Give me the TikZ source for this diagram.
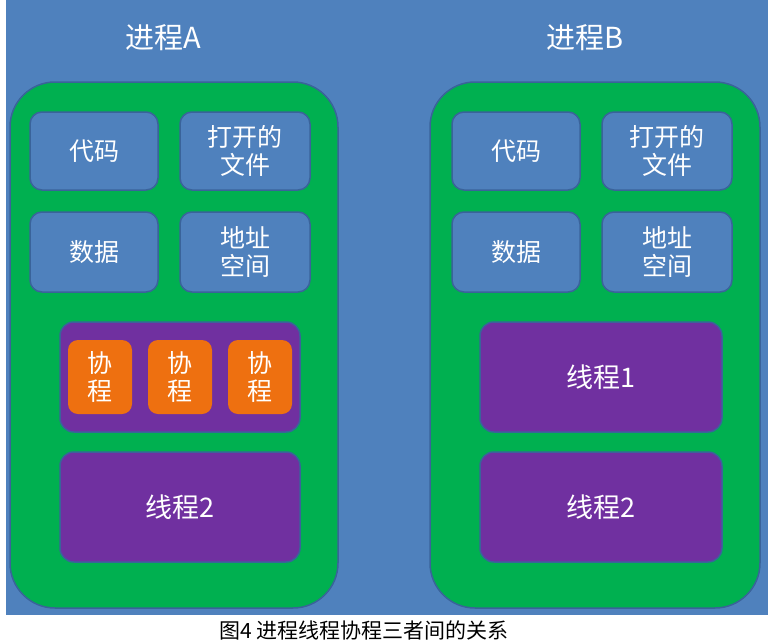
\documentclass[tikz,border=0pt]{standalone}
\usepackage{fontspec}
\setmainfont{Noto Sans CJK SC}
\begin{document}
\begin{tikzpicture}[x=1pt,y=-1pt]
\definecolor{bg}{HTML}{4F81BD}
\definecolor{grn}{HTML}{00B050}
\definecolor{pur}{HTML}{7030A0}
\definecolor{org}{HTML}{EE7010}
\definecolor{edge}{HTML}{3A639A}
\tikzset{
 proc/.style={draw=edge,line width=1.5pt,fill=grn,rounded corners=45pt},
 res/.style={draw=edge,line width=1.5pt,fill=bg,rounded corners=12pt},
 thr/.style={draw=edge,line width=1.5pt,fill=pur,rounded corners=14pt},
 co/.style={fill=org,rounded corners=10pt},
 lbl/.style={text=white,font=\fontsize{25}{28}\selectfont,align=center,inner sep=0pt},
 ttl/.style={text=white,font=\fontsize{29}{32}\selectfont}
}
\useasboundingbox (0,0) rectangle (774,643);
\fill[white] (0,0) rectangle (774,643);
\fill[bg] (6,0) rectangle (768,615);
\node[ttl] (ta) at (163,38) {进程A};
\node[ttl] (tb) at (585,38) {进程B};
\draw[proc] (10,82) rectangle (338,608);
\draw[proc] (430,82) rectangle (760,608);
\foreach \dx/\p in {0/a,422/b}{
 \draw[res] (30+\dx,112) rectangle (158+\dx,190);
 \node[lbl] (\p1) at (94+\dx,151) {代码};
 \draw[res] (180+\dx,112) rectangle (310+\dx,190);
 \node[lbl] (\p2) at (245+\dx,151) {打开的\\文件};
 \draw[res] (30+\dx,212) rectangle (158+\dx,292);
 \node[lbl] (\p3) at (94+\dx,252) {数据};
 \draw[res] (180+\dx,212) rectangle (310+\dx,292);
 \node[lbl] (\p4) at (245+\dx,252) {地址\\空间};
}
\draw[thr] (60,322) rectangle (300,432);
\foreach \x/\n in {68/c1,148/c2,228/c3}{
 \fill[co] (\x,340) rectangle (\x+64,414);
 \node[lbl] (\n) at (\x+32,377) {协\\程};
}
\draw[thr] (60,452) rectangle (300,562);
\node[lbl,font=\fontsize{27}{30}\selectfont] (a5) at (180,507) {线程2};
\draw[thr] (480,322) rectangle (722,432);
\node[lbl,font=\fontsize{27}{30}\selectfont] (b5) at (601,377) {线程1};
\draw[thr] (480,452) rectangle (722,562);
\node[lbl,font=\fontsize{27}{30}\selectfont] (b6) at (601,507) {线程2};
\node[font=\fontsize{21}{23}\selectfont] (cap) at (364,630) {图4\ 进程线程协程三者间的关系};
\end{tikzpicture}
\end{document}
